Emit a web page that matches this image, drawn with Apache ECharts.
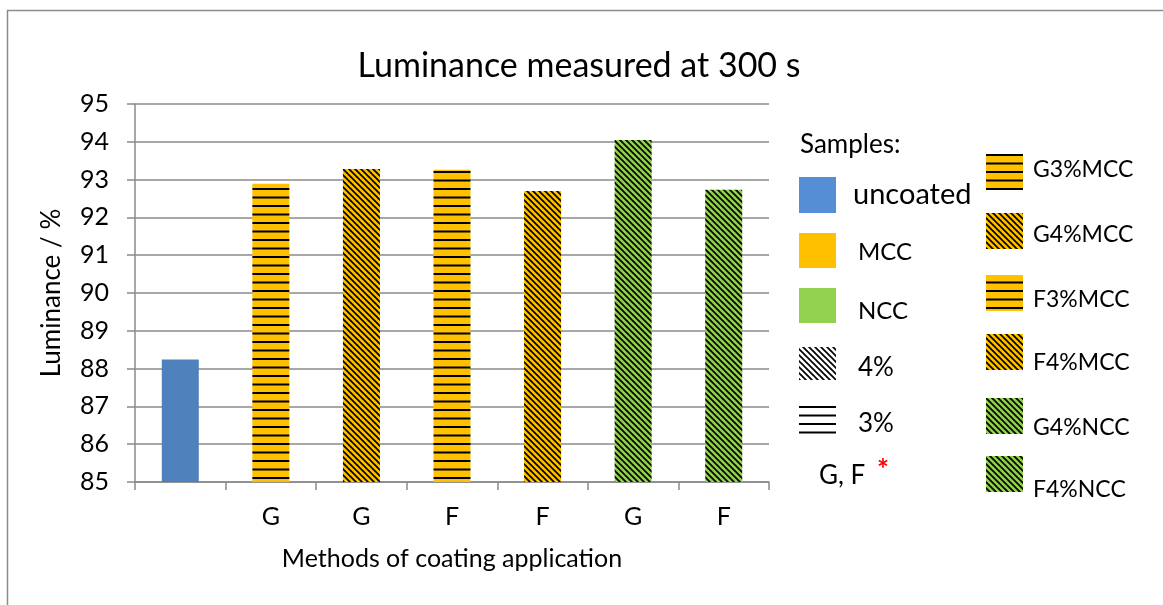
<!DOCTYPE html>
<html>
<head>
<meta charset="utf-8">
<title>Luminance measured at 300 s</title>
<script src="https://cdn.jsdelivr.net/npm/echarts@6/dist/echarts.min.js"></script>
<style>
  html, body { margin: 0; padding: 0; background: #fff; }
  #chart { width: 1163px; height: 605px; }
</style>
</head>
<body>
<div id="chart"></div>
<script>
const categories = ['', 'G', 'G', 'F', 'F', 'G', 'F']
const sampleNames = ['uncoated', 'G3%MCC', 'G4%MCC', 'F3%MCC', 'F4%MCC', 'G4%NCC', 'F4%NCC']
const luminance = [88.24, 92.89, 93.28, 93.26, 92.70, 94.05, 92.73]
const yTicks = [85, 86, 87, 88, 89, 90, 91, 92, 93, 94, 95]
const keyLabels = ['uncoated', 'MCC', 'NCC', '4%', '3%']

const FONT = 'Lato'
const BLUE = '#4F81BD'
const ORANGE = '#FFC000'
const GREEN = '#92D050'
const GRID = '#8a8a8a'

const makeStripes = (bg) => {
  const c = document.createElement('canvas')
  c.width = 8
  c.height = 17
  const ctx = c.getContext('2d')
  ctx.fillStyle = bg
  ctx.fillRect(0, 0, 8, 17)
  ctx.fillStyle = '#000'
  ctx.fillRect(0, 1, 8, 2)
  ctx.fillRect(0, 9.5, 8, 2)
  return { image: c, repeat: 'repeat' }
}

const makeHatch = (bg) => {
  const c = document.createElement('canvas')
  c.width = 6
  c.height = 6
  const ctx = c.getContext('2d')
  ctx.fillStyle = bg
  ctx.fillRect(0, 0, 6, 6)
  ctx.strokeStyle = '#000'
  ctx.lineWidth = 1.7
  ;[-6, 0, 6].forEach(x0 => {
    ctx.beginPath()
    ctx.moveTo(x0 - 1, -1)
    ctx.lineTo(x0 + 7, 7)
    ctx.stroke()
  })
  return { image: c, repeat: 'repeat' }
}

// fill comes from the sample name: material gives colour, % gives pattern
const fillFor = (name) => {
  if (name === 'uncoated') return BLUE
  const base = name.includes('NCC') ? GREEN : ORANGE
  return name.includes('3%') ? makeStripes(base) : makeHatch(base)
}

const chart = echarts.init(document.getElementById('chart'))

const swatchX = 799
const keyRows = [
  { y: 177, h: 36, fill: '#558ED5', textY: 195, size: 29, textX: 853 },
  { y: 233, h: 35, fill: ORANGE, textY: 252, size: 24, textX: 858 },
  { y: 288, h: 35, fill: GREEN, textY: 311, size: 24, textX: 858 },
  { y: 347, h: 33, fill: makeHatch('#fff'), textY: 368, size: 26, textX: 858 },
  { y: 406, h: 28, fill: null, textY: 424, size: 26, textX: 858 }
]

const graphics = [
  {
    type: 'rect',
    shape: { x: 7.5, y: 10.5, width: 1200, height: 700 },
    style: { fill: 'none', stroke: '#8c8c8c', lineWidth: 1.5 },
    silent: true
  },
  {
    type: 'text',
    x: 800, y: 145,
    style: { text: 'Samples:', font: `26px ${FONT}`, fill: '#000', textVerticalAlign: 'middle' }
  }
]

keyRows.forEach((row, i) => {
  if (row.fill) {
    graphics.push({
      type: 'rect',
      shape: { x: swatchX, y: row.y, width: 37, height: row.h },
      style: { fill: row.fill }
    })
  } else {
    ;[0, 8.5, 17, 25.5].forEach(dy => {
      graphics.push({
        type: 'rect',
        shape: { x: swatchX, y: row.y + dy, width: 37, height: 2 },
        style: { fill: '#000' }
      })
    })
  }
  graphics.push({
    type: 'text',
    x: row.textX, y: row.textY,
    style: { text: keyLabels[i], font: `${row.size}px ${FONT}`, fill: '#000', textVerticalAlign: 'middle' }
  })
})

graphics.push({
  type: 'text',
  x: 819, y: 476,
  style: { text: 'G, F', font: `26px ${FONT}`, fill: '#000', textVerticalAlign: 'middle' }
})
graphics.push({
  type: 'text',
  x: 877, y: 470,
  style: { text: '*', font: `bold 28px ${FONT}`, fill: '#FF0000', textVerticalAlign: 'middle' }
})

const sideRows = [
  { y: 154, textY: 170 },
  { y: 213, textY: 235 },
  { y: 275, textY: 300 },
  { y: 334, textY: 363 },
  { y: 398, textY: 428 },
  { y: 456, textY: 490 }
]
sideRows.forEach((row, i) => {
  const name = sampleNames[i + 1]
  graphics.push({
    type: 'rect',
    shape: { x: 986, y: row.y, width: 37, height: 36 },
    style: { fill: fillFor(name) }
  })
  graphics.push({
    type: 'text',
    x: 1033, y: row.textY,
    style: { text: name, font: `23px ${FONT}`, fill: '#000', textVerticalAlign: 'middle' }
  })
})

const option = {
  animation: false,
  backgroundColor: '#fff',
  textStyle: { fontFamily: FONT },
  title: {
    text: 'Luminance measured at 300 s',
    left: 574,
    textAlign: 'center',
    top: 44,
    textStyle: { fontFamily: FONT, fontSize: 34, fontWeight: 'normal', color: '#000' }
  },
  grid: {
    left: 135,
    right: 394,
    top: 104,
    bottom: 123
  },
  xAxis: {
    type: 'category',
    data: categories,
    name: 'Methods of coating application',
    nameLocation: 'middle',
    nameGap: 64,
    nameTextStyle: { fontFamily: FONT, fontSize: 25, color: '#000' },
    axisLine: { lineStyle: { color: GRID, width: 1.5 } },
    axisTick: { show: true, length: 8, lineStyle: { color: GRID, width: 1.5 } },
    axisLabel: { margin: 22, fontFamily: FONT, fontSize: 25, color: '#000' }
  },
  yAxis: {
    type: 'value',
    min: yTicks[0],
    max: yTicks[yTicks.length - 1],
    interval: 1,
    name: 'Luminance / %',
    nameLocation: 'middle',
    nameGap: 70,
    nameTextStyle: { fontFamily: FONT, fontSize: 26, color: '#000' },
    axisLine: { show: true, lineStyle: { color: GRID, width: 1.5 } },
    axisTick: { show: true, length: 8, lineStyle: { color: GRID, width: 1.5 } },
    axisLabel: { margin: 26, fontFamily: FONT, fontSize: 25, color: '#000' },
    splitLine: { lineStyle: { color: GRID, width: 1.5 } }
  },
  series: [
    {
      type: 'bar',
      barWidth: 37,
      data: luminance.map((v, i) => ({
        value: v,
        name: sampleNames[i],
        itemStyle: { color: fillFor(sampleNames[i]) }
      }))
    }
  ],
  graphic: graphics
}

chart.setOption(option)
</script>
</body>
</html>
